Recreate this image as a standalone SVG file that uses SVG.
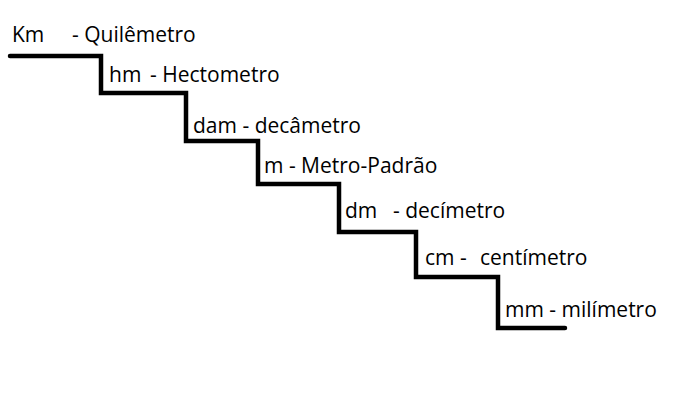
<svg xmlns="http://www.w3.org/2000/svg" width="687" height="414" viewBox="0 0 687 414">
<style>
text{font-family:"Open Sans","Noto Sans","Liberation Sans",sans-serif;font-size:21px;fill:#000}
.stair{fill:none;stroke:#000;stroke-width:4.5;stroke-linejoin:miter;stroke-linecap:round}
</style>
<rect width="687" height="414" fill="#fff"/>
<g id="connectors">
<path class="stair" d="M10 56 H101 V93 H186 V141 H258 V184 H339 V232 H416 V277 H498 V328 H565"/>
</g>
<g id="km"><text x="12" y="42">Km</text><text x="72" y="42">- Quilêmetro</text></g>
<g id="hm"><text x="109" y="82">hm</text><text x="150" y="82">- Hectometro</text></g>
<g id="dam"><text x="193" y="133">dam - decâmetro</text></g>
<g id="m"><text x="264" y="173">m - Metro-Padrão</text></g>
<g id="dm"><text x="345" y="218">dm</text><text x="393" y="218">- decímetro</text></g>
<g id="cm"><text x="425" y="265">cm</text><text x="460" y="265">-</text><text x="480" y="265">centímetro</text></g>
<g id="mm"><text x="505" y="317">mm - milímetro</text></g>
</svg>
